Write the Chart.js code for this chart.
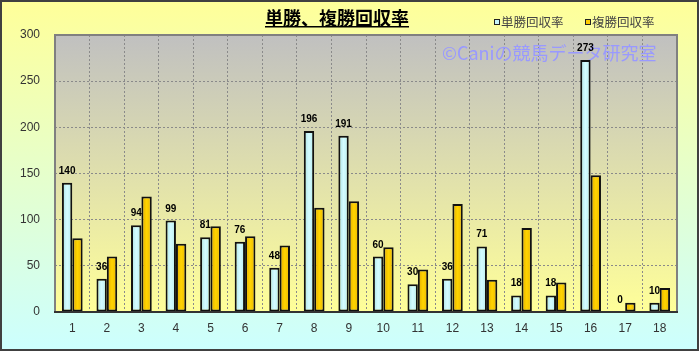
<!DOCTYPE html>
<html><head><meta charset="utf-8">
<script src="https://cdn.jsdelivr.net/npm/chart.js@4"></script>
<style>html,body{margin:0;padding:0;background:#fff}canvas{display:block}</style>
</head><body>
<canvas id="c" width="699" height="351"></canvas>
<script>
const categories = ['1','2','3','4','5','6','7','8','9','10','11','12','13','14','15','16','17','18'];
const tanshoReturn = [140,36,94,99,81,76,48,196,191,60,30,36,71,18,18,273,0,10];
const fukushoReturn = [80,60,125,74,93,82,72,113,120,70,46,117,35,91,32,148,10,26];
const yTickValues = [0,50,100,150,200,250,300];
const seriesNames = ['単勝回収率','複勝回収率'];
const titleText = '単勝、複勝回収率';
const watermarkText = '©Caniの競馬データ研究室';

const CJK = '"Noto Sans CJK JP", "Noto Sans", sans-serif';
const LAT = '"Liberation Sans", Arial, sans-serif';

function barFill(stops){
  return (c) => {
    if (c.type !== 'data') return stops[1];
    const el = c.chart.getDatasetMeta(c.datasetIndex).data[c.dataIndex];
    if (!el || !isFinite(el.x) || !el.width) return stops[1];
    const g = c.chart.ctx.createLinearGradient(el.x - el.width/2, 0, el.x + el.width/2, 0);
    g.addColorStop(0, stops[0]); g.addColorStop(0.5, stops[1]); g.addColorStop(1, stops[2]);
    return g;
  };
}

const deco = {
  id: 'deco',
  beforeDraw(chart){
    const ctx = chart.ctx, a = chart.chartArea;
    ctx.save();
    let g = ctx.createLinearGradient(0,0,0,chart.height);
    g.addColorStop(0,'#ffff99'); g.addColorStop(1,'#ccffff');
    ctx.fillStyle = g; ctx.fillRect(0,0,chart.width,chart.height);
    g = ctx.createLinearGradient(0,a.top,0,a.bottom);
    g.addColorStop(0,'#c0c0c0'); g.addColorStop(1,'#ffff99');
    ctx.fillStyle = g; ctx.fillRect(a.left,a.top,a.right-a.left,a.bottom-a.top);
    ctx.restore();
  },
  beforeDatasetsDraw(chart){
    const ctx = chart.ctx;
    ctx.save();
    ctx.font = '18px ' + CJK;
    ctx.fillStyle = '#9999ff';
    ctx.textBaseline = 'middle';
    ctx.textAlign = 'left';
    ctx.fillText(watermarkText, 442, 53);
    const meta = chart.getDatasetMeta(0);
    ctx.font = 'bold 10px ' + LAT;
    ctx.fillStyle = '#000';
    ctx.textAlign = 'center';
    ctx.textBaseline = 'alphabetic';
    meta.data.forEach((el,i) => {
      ctx.fillText(String(tanshoReturn[i]), el.x, el.y - 9);
    });
    ctx.restore();
  },
  afterDraw(chart){
    const ctx = chart.ctx, a = chart.chartArea;
    ctx.save();
    ctx.strokeStyle = '#808080'; ctx.lineWidth = 2;
    ctx.strokeRect(a.left, a.top, a.right-a.left, a.bottom-a.top);
    ctx.strokeStyle = '#333'; ctx.lineWidth = 2;
    ctx.beginPath(); ctx.moveTo(a.left-1, a.bottom); ctx.lineTo(a.right+1, a.bottom); ctx.stroke();
    ctx.font = 'bold 18px ' + CJK;
    ctx.fillStyle = '#000';
    ctx.textAlign = 'center'; ctx.textBaseline = 'middle';
    ctx.fillText(titleText, 337, 18);
    const tw = ctx.measureText(titleText).width;
    ctx.fillRect(337 - tw/2, 26, tw, 1.5);
    ctx.font = '12.5px ' + CJK;
    ctx.textAlign = 'left';
    const fills = ['#c8f6fa','#ffcc00'];
    const xs = [494, 585];
    seriesNames.forEach((n,i) => {
      ctx.fillStyle = fills[i];
      ctx.fillRect(xs[i], 19.5, 5, 5);
      ctx.strokeStyle = '#222'; ctx.lineWidth = 1;
      ctx.strokeRect(xs[i]+0.5, 19.5, 5, 5);
      ctx.fillStyle = '#444';
      ctx.fillText(n, xs[i]+7, 22);
    });
    ctx.strokeStyle = '#404040'; ctx.lineWidth = 2;
    ctx.strokeRect(1,1,chart.width-2,chart.height-2);
    ctx.restore();
  }
};

const chart = new Chart(document.getElementById('c'), {
  type: 'bar',
  data: {
    labels: categories,
    datasets: [
      { label: seriesNames[0], data: tanshoReturn,
        backgroundColor: barFill(['#a8e0e6','#d4fcff','#b4eaf0']),
        borderColor: '#111', borderWidth: 2, borderSkipped: false },
      { label: seriesNames[1], data: fukushoReturn,
        backgroundColor: barFill(['#e0a800','#ffd400','#eab400']),
        borderColor: '#111', borderWidth: 2, borderSkipped: false }
    ]
  },
  options: {
    responsive: false,
    animation: false,
    layout: { padding: { left: 0, right: 22, top: 35, bottom: 0 } },
    plugins: { legend: { display: false }, title: { display: false }, tooltip: { enabled: false } },
    datasets: { bar: { categoryPercentage: 0.6, barPercentage: 1.0 } },
    scales: {
      x: {
        afterFit(s){ s.height = 39; },
        grid: { color: '#8a8a8a', drawTicks: false, offset: true },
        border: { display: false, dash: [2,2] },
        ticks: { color: '#333', font: { family: LAT, size: 12 }, padding: 9, maxRotation: 0, autoSkip: false }
      },
      y: {
        min: 0, max: 300,
        afterFit(s){ s.width = 55; },
        afterBuildTicks(s){ s.ticks = yTickValues.map(v => ({ value: v })); },
        grid: { color: '#8a8a8a', drawTicks: false },
        border: { display: false, dash: [2,2] },
        ticks: { color: '#333', font: { family: LAT, size: 12 }, padding: 15 }
      }
    }
  },
  plugins: [deco]
});
chart.update();
</script>
</body></html>
